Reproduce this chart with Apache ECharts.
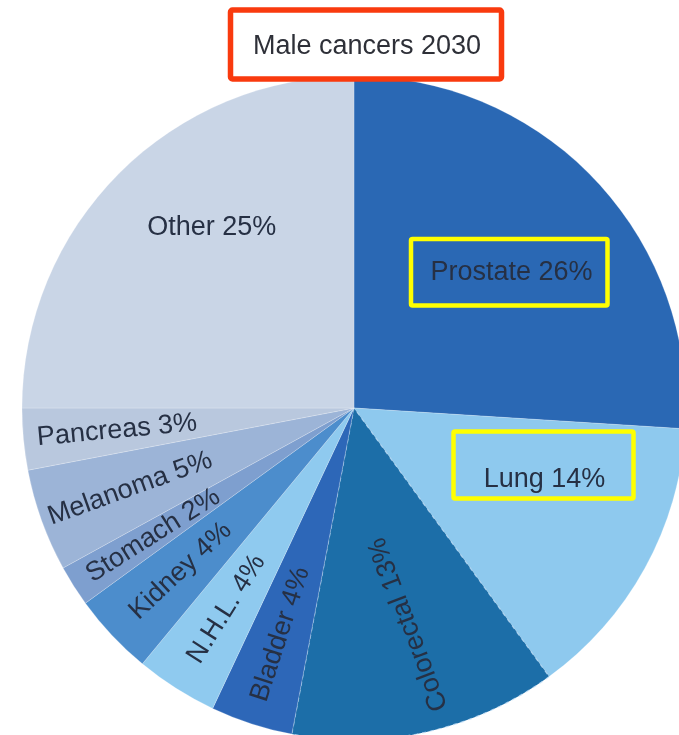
<!DOCTYPE html>
<html>
<head>
<meta charset="utf-8">
<script src="https://cdn.jsdelivr.net/npm/echarts@6/dist/echarts.min.js"></script>
<style>
  html, body { margin: 0; padding: 0; background: #fff; }
  #chart { width: 679px; height: 735px; }
</style>
</head>
<body>
<div id="chart"></div>
<script>
// Projected share of male cancer cases in 2030, clockwise from 12 o'clock
const categories = ['Prostate', 'Lung', 'Colorectal', 'Bladder', 'N.H.L.', 'Kidney', 'Stomach', 'Melanoma', 'Pancreas', 'Other'];
const shares = [26, 14, 13, 4, 4, 4, 2, 5, 3, 25];
const chartTitle = 'Male cancers 2030';
const highlighted = ['Prostate', 'Lung'];

// Slice fills, in category order
const palette = ['#2a68b4', '#8ec9ee', '#1c6ea8', '#2d67b8', '#8fcaef', '#4c8dcc', '#7e9fcf', '#9cb4d7', '#b9c8de', '#c9d5e6'];

// Large slices keep horizontal labels, nudged toward the slice body
const flatLabels = {
  'Prostate': [-16, 27],
  'Lung': [-18, -43],
  'Other': [26, -12]
};
// Labels that read toward the centre instead of outward: extra tilt and
// a shift expressed in the label's own (rotated) frame
const inwardLabels = {
  'Colorectal': { tilt: 8, offset: [14, 8] }
};

const center = [354, 408];
const radius = 332;
const textColor = '#263044';
const font = '"Liberation Sans", Arial, sans-serif';

const total = shares.reduce((a, b) => a + b, 0);
const midAngles = [];
shares.reduce((acc, v) => {
  midAngles.push((acc + v / 2) / total * 360);
  return acc + v;
}, 0);

const chart = echarts.init(document.getElementById('chart'), null, { renderer: 'canvas' });

const sliceData = categories.map((name, i) => ({
  name: name,
  value: shares[i],
  itemStyle: Object.assign(
    { color: palette[i] },
    name === 'Colorectal'
      ? { borderColor: 'rgba(190,220,245,0.75)', borderWidth: 1.2, borderType: [4, 4] }
      : {}
  )
}));

const labelData = categories.map((name, i) => {
  const flat = flatLabels[name];
  const inward = inwardLabels[name];
  let label;
  if (flat) {
    label = { rotate: 0, offset: flat };
  } else if (inward) {
    label = { rotate: 270 - midAngles[i] + inward.tilt, offset: inward.offset };
  } else {
    label = { rotate: 'radial' };
  }
  return { name: name, value: shares[i], label: label };
});

// Yellow call-out frames around the highlighted slice labels
const frames = {
  'Prostate': { x: 411, y: 239, width: 196.5, height: 66.5 },
  'Lung': { x: 453.5, y: 431.5, width: 180, height: 67 }
};

chart.setOption({
  animation: false,
  backgroundColor: '#ffffff',
  series: [
    {
      type: 'pie',
      center: center,
      radius: [0, radius],
      startAngle: 90,
      clockwise: true,
      silent: true,
      label: { show: false },
      labelLine: { show: false },
      itemStyle: { borderColor: 'rgba(255,255,255,0.35)', borderWidth: 0.6 },
      data: sliceData
    },
    {
      // Transparent ring that carries the slice labels further out
      type: 'pie',
      center: center,
      radius: [210, 260],
      startAngle: 90,
      clockwise: true,
      silent: true,
      itemStyle: { color: 'rgba(0,0,0,0)', borderWidth: 0 },
      labelLine: { show: false },
      label: {
        show: true,
        position: 'inside',
        formatter: '{b} {c}%',
        color: textColor,
        fontFamily: font,
        fontSize: 27,
        fontWeight: 'normal'
      },
      data: labelData
    }
  ],
  graphic: [
    {
      type: 'rect',
      z: 100,
      shape: { x: 230.5, y: 10, width: 271, height: 69, r: 2 },
      style: { fill: '#ffffff', stroke: '#f93a0e', lineWidth: 5.5 }
    },
    {
      type: 'text',
      z: 101,
      x: 367,
      y: 47,
      style: {
        text: chartTitle,
        fill: '#2e3038',
        font: '27px ' + font,
        align: 'center',
        verticalAlign: 'middle'
      }
    }
  ].concat(highlighted.map(name => ({
    type: 'rect',
    z: 100,
    shape: Object.assign({ r: 1.5 }, frames[name]),
    style: { fill: 'none', stroke: '#ffff00', lineWidth: 4.5 }
  })))
});
</script>
</body>
</html>
